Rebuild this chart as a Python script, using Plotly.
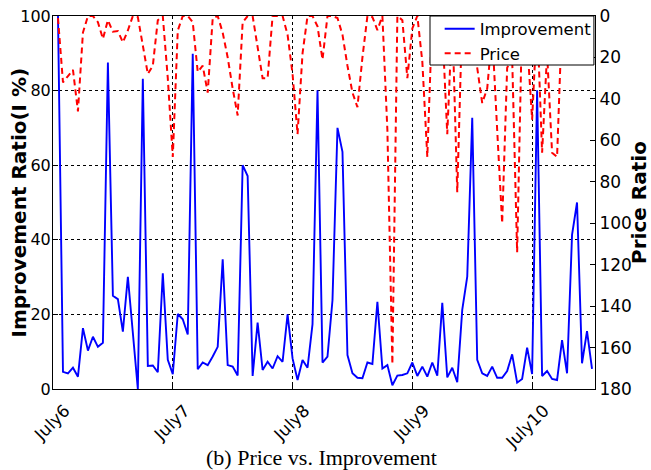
import plotly.graph_objects as go

# hours after July6 00:00
hours = list(range(1, 109))

improvement = [
    100, 4.6, 4.2, 5.7, 3.3, 16.3, 10.3, 14.0, 11.3, 12.4,
    87.5, 25.0, 24.1, 15.4, 30.1, 15.0, 0.0, 83.2, 6.2, 6.3,
    4.5, 31.0, 7.8, 4.0, 20.1, 18.7, 14.6, 89.9, 5.3, 7.1,
    6.4, 8.7, 11.3, 34.8, 6.4, 6.0, 3.6, 60.0, 57.1, 3.5,
    17.8, 5.1, 7.3, 5.5, 8.8, 7.3, 20.0, 8.2, 2.4, 7.8,
    5.7, 17.4, 80.1, 7.1, 8.7, 23.8, 70.0, 63.6, 9.1, 4.2,
    3.0, 2.9, 7.1, 6.7, 23.4, 5.5, 6.4, 1.0, 3.6, 3.75,
    4.2, 7.1, 3.5, 6.0, 3.3, 7.1, 3.6, 23.1, 3.1, 5.7,
    1.8, 21.2, 30.1, 72.7, 7.8, 4.2, 3.5, 6.0, 3.0, 3.0,
    4.8, 9.3, 1.7, 2.7, 11.1, 4.0, 80.1, 3.5, 4.8, 2.7,
    2.4, 13.1, 4.2, 41.3, 50.0, 6.9, 15.5, 5.4,
]

price = [
    1, 32, 29, 26, 46, 8, 0, 0, 3, 11,
    2, 7.6, 7.3, 12.7, 7, 0, 0.5, 15, 28, 24,
    2, 0, 30, 68, 7, 0, 0, 3, 27, 24,
    37, 1, 0, 8, 20, 35, 48, 3, 0, 0,
    14, 30, 30, 0, 0, 0, 9, 28, 57, 18,
    0, 0, 5, 21, 0, 0, 1, 9, 24, 37,
    44, 20, 0, 0.5, 6.8, 0, 55, 168, 0, 2,
    30, 6, 0, 22, 68, 0, 0, 5, 57, 0,
    85, 0, 0, 5, 25, 42, 35, 8, 55, 100,
    25, 20, 114, 0, 12, 50, 0, 66, 18, 66,
    68, 0, 0, 5, 0, 0, 3, 0,
]

day_ticks = [0, 24, 48, 72, 96]
day_labels = ["July6", "July7", "July8", "July9", "July10"]
left_ticks = [0, 20, 40, 60, 80, 100]
right_ticks = [0, 20, 40, 60, 80, 100, 120, 140, 160, 180]

FONT = "DejaVu Sans"

fig = go.Figure()
fig.add_trace(go.Scatter(
    x=hours, y=improvement, mode="lines", name="Improvement",
    line=dict(color="#0000ff", width=1.9), yaxis="y",
))
fig.add_trace(go.Scatter(
    x=hours, y=price, mode="lines", name="Price",
    line=dict(color="#ff0000", width=2, dash="6px,4px"), yaxis="y2",
))

fig.update_layout(
    width=651, height=470,
    margin=dict(l=53, r=56, t=16, b=81),
    paper_bgcolor="white", plot_bgcolor="white",
    font=dict(family=FONT, size=17, color="black"),
    showlegend=True,
    legend=dict(
        x=0.7134, xanchor="left", y=1.012, yanchor="top",
        bgcolor="rgba(0,0,0,0)", borderwidth=0,
        font=dict(family=FONT, size=16.5), tracegroupgap=0,
    ),
    shapes=[dict(
        type="rect", xref="paper", yref="paper",
        x0=0.6956, x1=0.998, y0=0.8686, y1=1.0,
        fillcolor="white", line=dict(color="black", width=1), layer="above",
    )],
    xaxis=dict(
        range=[0, 108.6], tickmode="array", tickvals=day_ticks, ticktext=day_labels,
        tickangle=-45, ticklabelshift=12, ticklabelstandoff=4,
        showgrid=True, gridcolor="black", griddash="dot", gridwidth=1,
        showline=True, linecolor="black", linewidth=1, mirror=True,
        ticks="inside", ticklen=5, tickcolor="black", zeroline=False,
        automargin=False,
    ),
    yaxis=dict(
        range=[0, 100], tickmode="array", tickvals=left_ticks,
        tickfont=dict(size=16), ticklabelstandoff=-2,
        showgrid=True, gridcolor="black", griddash="dot", gridwidth=1,
        showline=True, linecolor="black", linewidth=1, mirror=True,
        ticks="inside", ticklen=5, tickcolor="black", zeroline=False,
        automargin=False,
    ),
    yaxis2=dict(
        range=[180, 0], tickmode="array", tickvals=right_ticks,
        overlaying="y", side="right", showgrid=False,
        showline=True, linecolor="black", linewidth=1,
        ticks="inside", ticklen=5, tickcolor="black", zeroline=False,
        title=dict(text="<b>Price Ratio</b>", font=dict(size=20), standoff=4),
        automargin=False,
    ),
    annotations=[
        dict(
            text="<b>Improvement Ratio(I %)</b>", xref="paper", yref="paper",
            x=-0.0645, y=0.5, xanchor="center", yanchor="middle", textangle=-90,
            showarrow=False, font=dict(family=FONT, size=20, color="black"),
        ),
        dict(
            text="(b) Price vs. Improvement", xref="paper", yref="paper",
            x=0.495, y=-0.183, xanchor="center", yanchor="middle", showarrow=False,
            font=dict(family="Liberation Serif", size=22, color="black"),
        ),
    ],
)

fig.write_html(
    "out.html",
    config={"displayModeBar": False},
    post_script="document.body.style.margin='0px';",
)
